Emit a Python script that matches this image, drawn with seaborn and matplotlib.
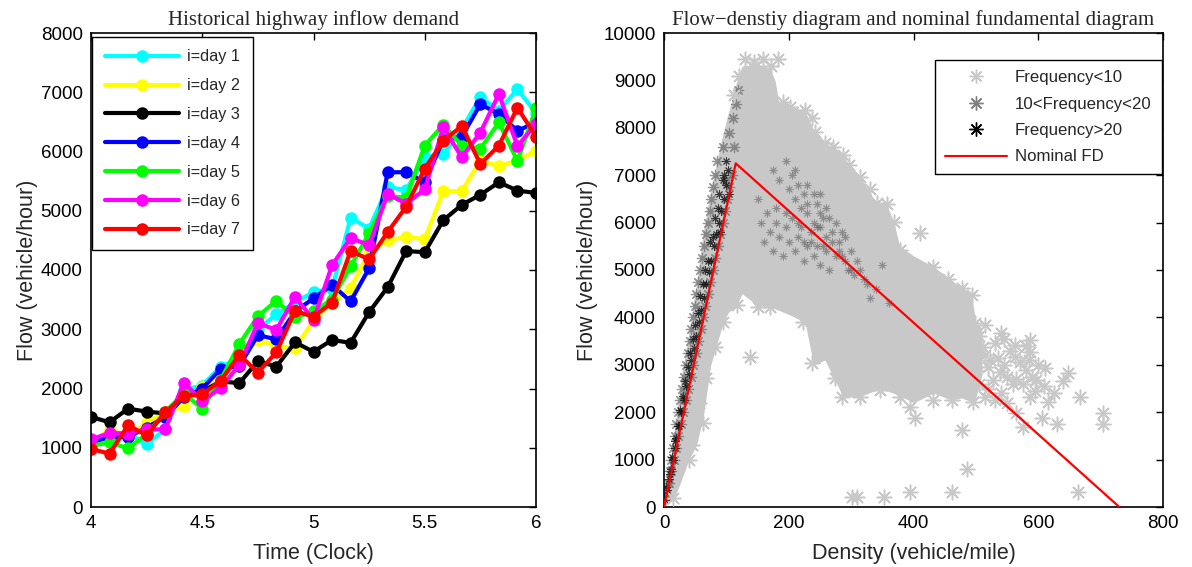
import matplotlib
matplotlib.use("Agg")
import matplotlib.pyplot as plt
import seaborn as sns
import pandas as pd
from matplotlib.lines import Line2D

# ---------------- Left panel data ----------------
time_hours = [4.0, 4.0833, 4.1667, 4.25, 4.3333, 4.4167, 4.5, 4.5833, 4.6667, 4.75,
              4.8333, 4.9167, 5.0, 5.0833, 5.1667, 5.25, 5.3333, 5.4167, 5.5, 5.5833,
              5.6667, 5.75, 5.8333, 5.9167, 6.0]
day1 = [1090, 1180, 1240, 1060, 1310, 1980, 2050, 2370, 2500, 3000, 3250, 3450, 3630,
        3680, 4880, 4700, 5400, 5350, 5900, 5950, 6380, 6920, 6690, 7050, 6650]
day2 = [1090, 1300, 1200, 1420, 1600, 1700, 2030, 2130, 2580, 2820, 2720, 2680, 3150,
        3450, 3690, 4300, 4500, 4560, 4520, 5330, 5330, 5850, 5750, 5850, 6010]
day3 = [1520, 1430, 1660, 1610, 1580, 1900, 1950, 2120, 2090, 2460, 2370, 2780, 2620,
        2820, 2770, 3290, 3710, 4320, 4300, 4840, 5100, 5270, 5480, 5340, 5300]
day4 = [1090, 1180, 1180, 1340, 1520, 1850, 2000, 2330, 2380, 2900, 2830, 3300, 3520,
        3750, 3470, 4030, 5650, 5650, 5480, 6200, 6250, 6800, 6630, 6350, 6490]
day5 = [1030, 1090, 990, 1230, 1600, 1920, 1660, 2150, 2750, 3220, 3480, 3200, 3300,
        3500, 4060, 4620, 5250, 5220, 6100, 6450, 6100, 6050, 6490, 5840, 6730]
day6 = [1140, 1250, 1240, 1310, 1310, 2100, 1790, 2010, 2400, 3100, 2990, 3550, 3160,
        4080, 4540, 4420, 5280, 5120, 5360, 6410, 5900, 6320, 6970, 6090, 6470]
day7 = [980, 900, 1380, 1210, 1600, 1870, 1900, 2130, 2570, 2270, 2610, 3310, 3210,
        3450, 4320, 4180, 4640, 5070, 5710, 6180, 6430, 5790, 6100, 6740, 6250]
day_labels = ["i=day 1", "i=day 2", "i=day 3", "i=day 4", "i=day 5", "i=day 6", "i=day 7"]
day_colors = ["#00ffff", "#ffff00", "#000000", "#0000ff", "#00ff00", "#ff00ff", "#ff0000"]
left_yticks = [0, 1000, 2000, 3000, 4000, 5000, 6000, 7000, 8000]
left_xticks = [4, 4.5, 5, 5.5, 6]
left_xticklabels = ["4", "4.5", "5", "5.5", "6"]

# ---------------- Right panel data ----------------
# envelope of the dense "Frequency<10" cloud
cloud_density = [0, 15, 26, 40, 52, 63, 75, 84, 95, 103, 117, 125, 150, 170, 178, 184, 202,
                 226, 240, 258, 287, 296, 314, 341, 357, 368, 378, 400, 432, 460, 477, 493,
                 500, 510]
cloud_upper = [150, 1400, 2600, 3700, 4700, 5800, 6700, 7250, 7900, 8300, 9000, 9300, 9350,
               9250, 9000, 8550, 8450, 8350, 7950, 7670, 7430, 7215, 6970, 6410, 6385, 6020,
               5500, 5300, 5070, 4800, 4610, 4470, 3900, 3700]
cloud_lower = [0, 150, 500, 1000, 1300, 1900, 3000, 3400, 3900, 4100, 4260, 4500, 4250, 4230,
               4180, 4150, 4050, 3900, 3000, 3100, 2330, 2330, 2330, 2470, 2450, 2400, 2350,
               2200, 2400, 2260, 2300, 2220, 2300, 2800]

# individual "Frequency<10" points (ragged edges, tail and outliers)
low_density = [130, 145, 159, 172, 183, 190, 202, 214, 226, 237, 242, 258, 271, 287, 296, 314,
               330, 341, 357, 368, 378, 410, 432, 455, 477, 493, 499, 512, 523, 541, 563, 587,
               563, 587, 581, 539, 528, 499, 515, 560, 597, 616, 587, 565, 611, 648, 667, 704,
               704, 630, 606, 576, 477, 485, 394, 461, 664, 301, 309, 353, 138, 63, 413, 432,
               461, 496, 394, 402, 378, 285, 314, 346, 274, 237, 223, 151, 170, 117, 95, 82,
               68, 15, 40, 505, 515, 520, 530, 535, 545, 550, 555, 570, 575, 585, 590, 600,
               520, 540, 505, 530, 550, 565, 580, 595, 610, 625, 640, 515, 545, 120, 112, 45, 56]
low_flow = [9445, 9380, 9445, 9300, 9445, 8550, 8446, 8300, 8376, 8200, 7918, 7672, 7588, 7426,
            7215, 6968, 6700, 6407, 6385, 6019, 5422, 5774, 5070, 4800, 4613, 4473, 3875, 3382,
            3101, 3664, 3418, 3523, 3171, 3277, 2890, 2855, 2680, 2890, 2327, 2600, 2680, 2222,
            2327, 1976, 2926, 2820, 2327, 1976, 1751, 1751, 1871, 1694, 1624, 795, 323, 323,
            323, 217, 217, 217, 3171, 1765, 2468, 2257, 2257, 2222, 2116, 1871, 2330, 2327,
            2327, 2468, 2714, 3031, 3910, 4226, 4226, 4262, 3910, 3382, 2714, 183, 1000, 3600,
            3200, 2950, 3450, 3150, 3000, 2750, 3300, 3050, 2600, 3100, 2750, 3000, 2500, 2400,
            2600, 2250, 2200, 2700, 3400, 2450, 2550, 2400, 2650, 3850, 3550, 9100, 8700, 1300,
            2200]

# "10<Frequency<20" points: congested cluster
mid_cluster_density = [185, 200, 210, 220, 230, 240, 250, 260, 270, 280, 195, 215, 235, 255,
                       275, 205, 225, 245, 265, 285, 290, 230, 250, 215, 240, 260, 180, 175,
                       300, 320, 340, 310, 330, 360, 350,
                       150, 155, 160, 165, 170, 175, 180, 185, 190, 195, 200, 205, 210, 215,
                       220, 225, 230, 235, 240, 245, 250, 255, 260, 265, 270, 275, 280, 285,
                       290, 295, 300, 305, 315, 325, 250, 230, 210, 195, 225, 245]
mid_cluster_flow = [6900, 6700, 6500, 6300, 6200, 6000, 5900, 5700, 5600, 5400, 6200, 6000,
                    5800, 5500, 5300, 7000, 6600, 6400, 6100, 5800, 5200, 5500, 6200, 6800,
                    6600, 6300, 6300, 7100, 5000, 4800, 4600, 5200, 4400, 4300, 5100,
                    6500, 6000, 5600, 6200, 5800, 5400, 6000, 5700, 5300, 5900, 5600, 6100,
                    5400, 5700, 5900, 5200, 6400, 5600, 5300, 5900, 5100, 6100, 5400, 5000,
                    5800, 6000, 5600, 5300, 5700, 5000, 5400, 4900, 5000, 4700, 6600, 6800,
                    7100, 7300, 5600, 5500]
# "10<Frequency<20" points: free-flow band
mid_band_density = [3, 6, 9, 12, 14, 17, 20, 23, 26, 29, 32, 35, 38, 41, 44, 46, 49, 52, 55, 58,
                    61, 64, 67, 70, 73, 76, 79, 82,
                    4, 8, 12, 16, 19, 23, 27, 31, 35, 39, 43, 47, 51, 55, 59, 62, 66, 70, 74,
                    78, 82, 86, 90, 94, 98, 101, 105, 109,
                    85, 95, 105, 110, 115, 118, 100, 112]
mid_band_flow = [250, 500, 750, 1000, 1250, 1500, 1750, 2000, 2250, 2500, 2750, 3000, 3250, 3500,
                 3750, 4000, 4250, 4500, 4750, 5000, 5250, 5500, 5750, 6000, 6250, 6500, 6750,
                 7000,
                 250, 500, 750, 1000, 1250, 1500, 1750, 2000, 2250, 2500, 2750, 3000, 3250, 3500,
                 3750, 4000, 4250, 4500, 4750, 5000, 5250, 5500, 5750, 6000, 6250, 6500, 6750,
                 7000,
                 7300, 7600, 7900, 8200, 8500, 8800, 6900, 7600]

# "Frequency>20" points along the free-flow branch
high_density = [2, 5, 8, 11, 14, 17, 20, 24, 28, 32, 36, 40, 44, 48, 52, 56, 60, 64, 68, 72, 76,
                80, 84, 88, 92, 96, 100, 78, 86, 94, 102, 70, 90, 105, 4, 9, 13, 18, 22, 26,
                30, 34, 38, 42, 46, 50, 54, 58, 62, 66, 74, 82, 88, 96, 100]
high_flow = [150, 350, 600, 800, 1000, 1250, 1450, 1700, 2000, 2250, 2550, 2800, 3100, 3350,
             3600, 3900, 4150, 4400, 4700, 4950, 5200, 5500, 5750, 6000, 6250, 6500, 6800, 5700,
             6300, 6900, 7100, 5200, 5800, 6600, 420, 700, 1050, 1400, 1700, 2050, 2350, 2650,
             2950, 3250, 3550, 3850, 4100, 4450, 4700, 5000, 5600, 6100, 6600, 7000, 7300]

fd_density = [0, 115, 730]
fd_flow = [0, 7250, 0]
right_xticks = [0, 200, 400, 600, 800]
right_yticks = [0, 1000, 2000, 3000, 4000, 5000, 6000, 7000, 8000, 9000, 10000]
fd_labels = ["Frequency<10", "10<Frequency<20", "Frequency>20", "Nominal FD"]

# ---------------- Styling ----------------
sns.set_theme(style="white")
plt.rcParams["font.family"] = ["Liberation Sans", "DejaVu Sans"]
serif = ["Liberation Serif", "DejaVu Serif"]

fig = plt.figure(figsize=(11.92, 5.67), dpi=100)
ax1 = fig.add_axes([91 / 1192, 60 / 567, 445 / 1192, 474 / 567])
ax2 = fig.add_axes([664 / 1192, 60 / 567, 499 / 1192, 474 / 567])

# Left panel
series = [day1, day2, day3, day4, day5, day6, day7]
for vals, lab, col in zip(series, day_labels, day_colors):
    df = pd.DataFrame({"t": time_hours, "q": vals})
    sns.lineplot(data=df, x="t", y="q", ax=ax1, color=col, linewidth=3, marker="o",
                 markersize=9, markeredgewidth=0, label=lab, sort=False)
ax1.set_xlim(4, 6)
ax1.set_ylim(0, 8000)
ax1.set_xticks(left_xticks)
ax1.set_xticklabels(left_xticklabels)
ax1.set_yticks(left_yticks)
ax1.set_xlabel("Time (Clock)", fontsize=15.5, labelpad=8)
ax1.set_ylabel("Flow (vehicle/hour)", fontsize=15.5, labelpad=2)
ax1.set_title("Historical highway inflow demand", fontsize=15, family=serif, pad=6)
leg1 = ax1.legend(loc="upper left", bbox_to_anchor=(0.003, 0.991), borderaxespad=0,
                  fontsize=11.7, handlelength=4.6, labelspacing=0.85, borderpad=0.75,
                  handletextpad=0.5, fancybox=False, framealpha=1, edgecolor="black")
leg1.get_frame().set_linewidth(1.0)

# Right panel
ast = (8, 2, 0)
ax2.fill_between(cloud_density, cloud_lower, cloud_upper, color="#c8c8c8", linewidth=0,
                 zorder=1)
sns.scatterplot(x=mid_cluster_density, y=mid_cluster_flow, ax=ax2, marker=ast, s=28,
                color="#505050", linewidth=0.6, alpha=0.5, zorder=2)
sns.scatterplot(x=mid_band_density, y=mid_band_flow, ax=ax2, marker=ast, s=55,
                color="#707070", linewidth=0.9, alpha=0.75, zorder=2)
sns.scatterplot(x=high_density, y=high_flow, ax=ax2, marker=ast, s=28, color="#111111",
                linewidth=0.7, alpha=0.8, zorder=3)
sns.scatterplot(x=low_density, y=low_flow, ax=ax2, marker=ast, s=110, color="#c8c8c8",
                linewidth=1.1, zorder=4)
sns.lineplot(x=fd_density, y=fd_flow, ax=ax2, color="red", linewidth=1.6, sort=False,
             zorder=5)
ax2.set_xlim(0, 800)
ax2.set_ylim(0, 10000)
ax2.set_xticks(right_xticks)
ax2.set_yticks(right_yticks)
ax2.set_xlabel("Density (vehicle/mile)", fontsize=15.5, labelpad=8)
ax2.set_ylabel("Flow (vehicle/hour)", fontsize=15.5, labelpad=4)
ax2.set_title("Flow\u2212denstiy diagram and nominal fundamental diagram", fontsize=15,
              family=serif, pad=6)
handles = [
    Line2D([], [], marker=ast, linestyle="None", color="#c8c8c8", markersize=10, markeredgewidth=1.0),
    Line2D([], [], marker=ast, linestyle="None", color="#808080", markersize=10, markeredgewidth=1.0),
    Line2D([], [], marker=ast, linestyle="None", color="black", markersize=10, markeredgewidth=1.0),
    Line2D([], [], color="red", linewidth=1.5),
]
leg2 = ax2.legend(handles, fd_labels, loc="upper right", bbox_to_anchor=(0.9974, 0.943),
                  borderaxespad=0, fontsize=12.1, handlelength=3.7, labelspacing=0.68,
                  borderpad=0.6, handletextpad=0.45, fancybox=False, framealpha=1,
                  edgecolor="black")
leg2.get_frame().set_linewidth(1.0)

for ax in (ax1, ax2):
    for sp in ax.spines.values():
        sp.set_color("black")
        sp.set_linewidth(1.2)
    ax.tick_params(direction="in", top=True, right=True, length=5, width=1,
                   labelsize=13.5, colors="black", pad=6)

fig.savefig("out.png", dpi=100)
